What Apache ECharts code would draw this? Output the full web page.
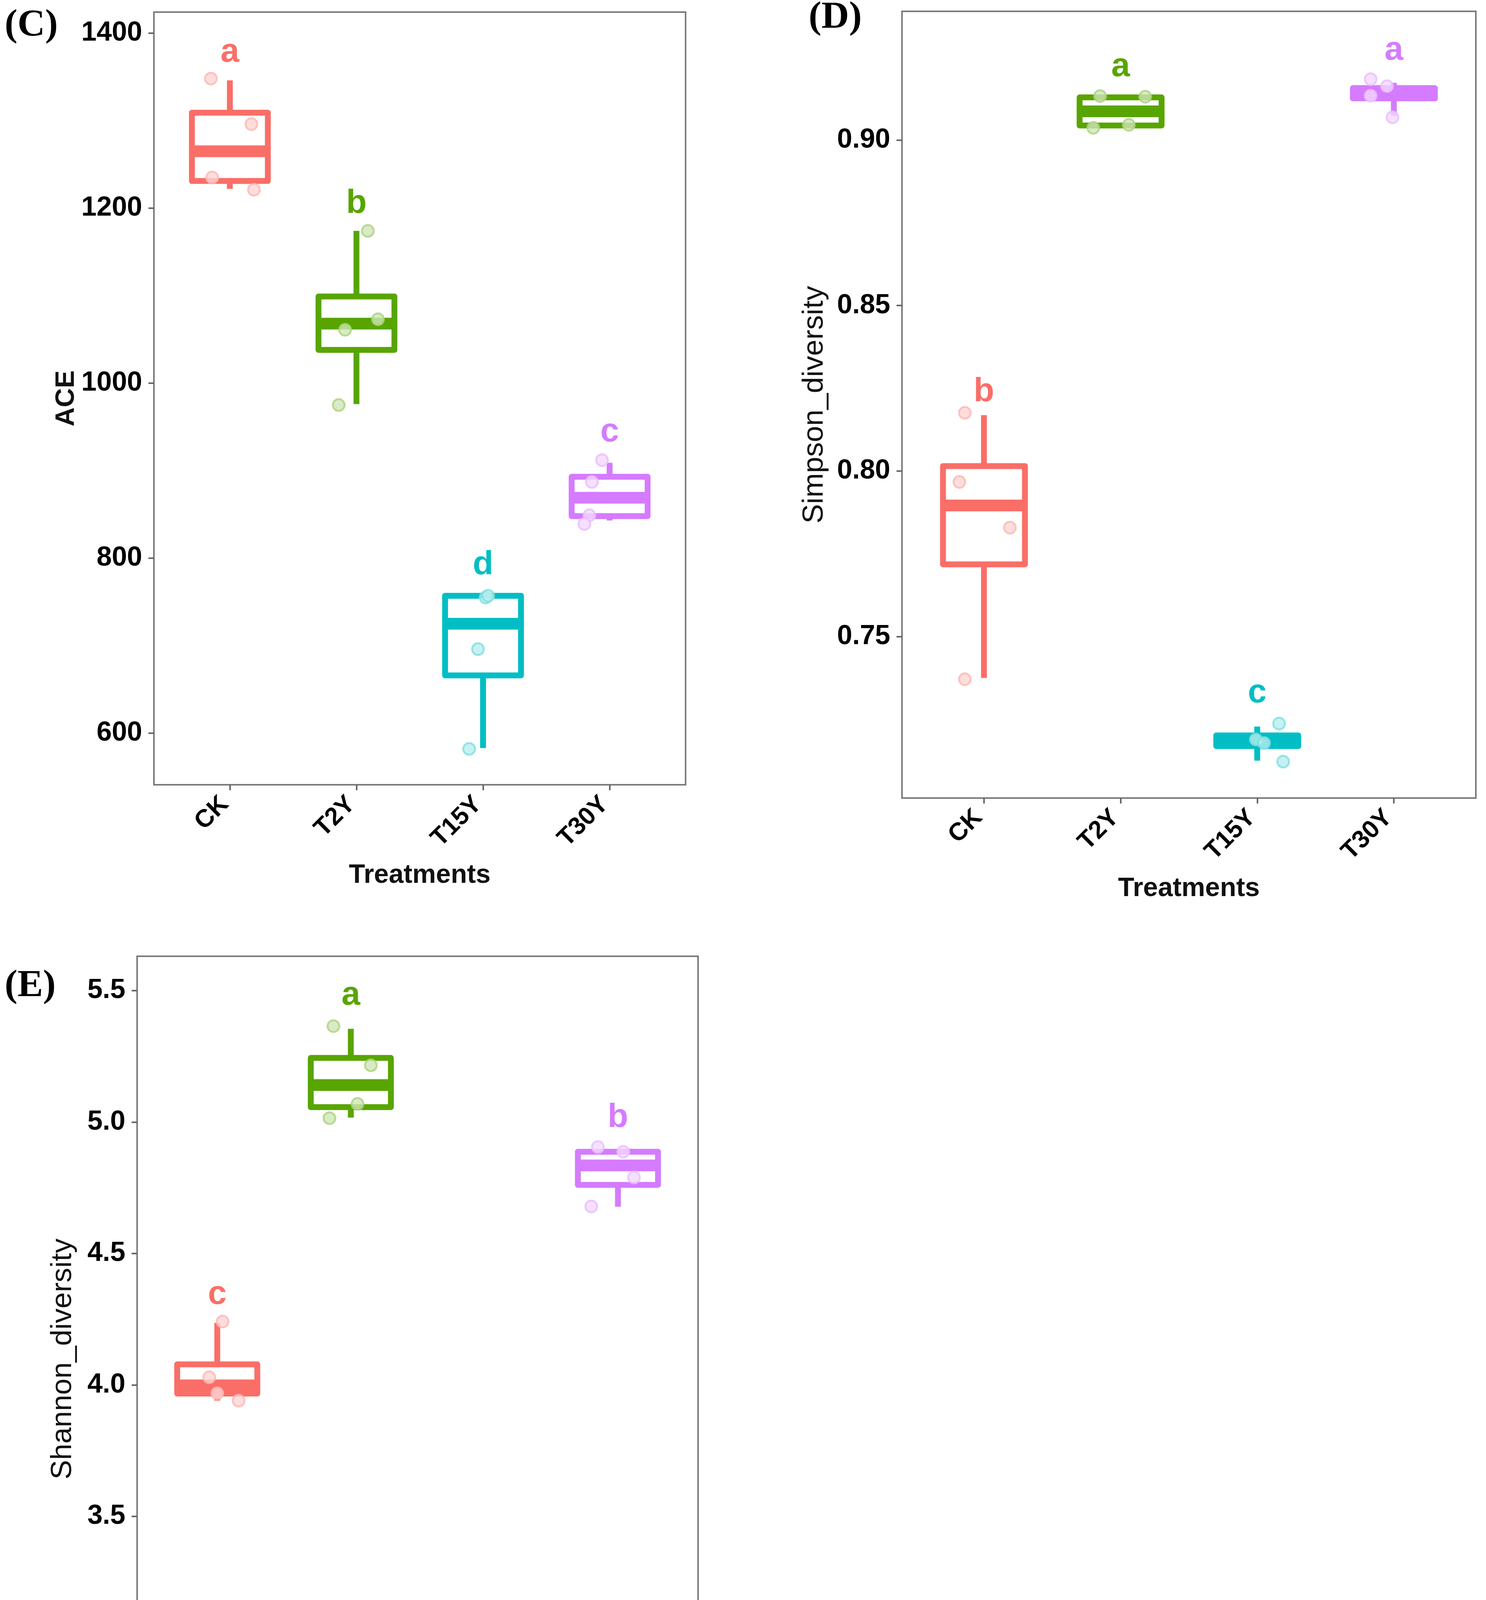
<!DOCTYPE html>
<html>
<head>
<meta charset="utf-8">
<script src="https://cdn.jsdelivr.net/npm/echarts@6/dist/echarts.min.js"></script>
<style>
  html, body { margin: 0; padding: 0; background: #fff; }
  #chart { width: 3804px; height: 4809px; }
</style>
</head>
<body>
<div id="chart"></div>
<script>
const treatments = ['CK', 'T2Y', 'T15Y', 'T30Y'];
const groupColors = ['#FA6E68', '#58A500', '#00BEC4', '#D57BFF'];

// box stats per treatment: [min, q1, median, q3, max]
const aceBoxes = [
  [1222, 1231, 1265, 1309, 1346],
  [976, 1038, 1068, 1099, 1174],
  [583, 666, 725, 757, 757],
  [843, 848, 869, 893, 909]
];
// jittered points: [x position, value]
const acePoints = [
  [[0.85, 1348], [1.17, 1296], [0.86, 1235], [1.19, 1221]],
  [[2.09, 1174], [2.17, 1073], [1.91, 1061], [1.86, 975]],
  [[3.02, 755], [3.04, 757], [2.96, 696], [2.89, 582]],
  [[3.94, 912], [3.86, 887], [3.84, 849], [3.80, 839]]
];
const aceLetters = ['a', 'b', 'd', 'c'];
const aceLetterY = [1378, 1205, 792, 944];
const aceTicks = [600, 800, 1000, 1200, 1400];
const aceRange = [541, 1424];

const simpsonBoxes = [
  [0.7375, 0.7718, 0.7896, 0.8015, 0.8169],
  [0.9037, 0.9044, 0.9087, 0.9129, 0.9133],
  [0.7125, 0.7169, 0.7185, 0.7201, 0.7228],
  [0.9073, 0.9126, 0.9142, 0.9157, 0.9173]
];
const simpsonPoints = [
  [[0.86, 0.8176], [0.82, 0.7967], [1.19, 0.7829], [0.86, 0.7371]],
  [[1.85, 0.9133], [2.18, 0.9131], [2.06, 0.9046], [1.80, 0.9037]],
  [[3.16, 0.7237], [2.99, 0.7189], [3.05, 0.7178], [3.19, 0.7122]],
  [[3.83, 0.9184], [3.95, 0.9163], [3.83, 0.9134], [3.99, 0.9069]]
];
const simpsonLetters = ['b', 'a', 'c', 'a'];
const simpsonLetterY = [0.8239, 0.9221, 0.7329, 0.9271];
const simpsonTicks = [0.75, 0.80, 0.85, 0.90];
const simpsonRange = [0.7012, 0.9389];

const shannonBoxes = [
  [3.940, 3.967, 3.998, 4.078, 4.236],
  [5.017, 5.057, 5.141, 5.244, 5.355],
  [2.716, 2.740, 2.756, 2.772, 2.786],
  [4.678, 4.761, 4.835, 4.887, 4.898]
];
const shannonPoints = [
  [[1.04, 4.241], [0.94, 4.029], [1.00, 3.968], [1.16, 3.940]],
  [[1.87, 5.365], [2.15, 5.216], [2.05, 5.069], [1.84, 5.015]],
  [[2.86, 2.776], [2.99, 2.786], [3.08, 2.744], [3.19, 2.716]],
  [[3.85, 4.905], [4.04, 4.887], [4.12, 4.789], [3.80, 4.679]]
];
const shannonLetters = ['c', 'a', 'd', 'b'];
const shannonLetterY = [4.3435, 5.4816, 2.9138, 5.0167];
const shannonTicks = [3.0, 3.5, 4.0, 4.5, 5.0, 5.5];
const shannonRange = [2.566, 5.631];

const SANS = '"Liberation Sans", Arial, sans-serif';
const SERIF = '"Liberation Serif", "Times New Roman", serif';

// mix a hex colour with white
function tint(hex, amount) {
  const n = parseInt(hex.slice(1), 16);
  const ch = [(n >> 16) & 255, (n >> 8) & 255, n & 255]
    .map(c => Math.round(c + (255 - c) * amount));
  return 'rgb(' + ch.join(',') + ')';
}

function renderBox(params, api) {
  const x = api.value(0);
  const lo = api.coord([x, api.value(1)]);
  const q1 = api.coord([x, api.value(2)]);
  const med = api.coord([x, api.value(3)]);
  const q3 = api.coord([x, api.value(4)]);
  const hi = api.coord([x, api.value(5)]);
  const half = api.size([0.3, 0])[0];
  const color = groupColors[params.dataIndex];
  const stroke = { stroke: color, lineWidth: 15, fill: null, lineJoin: 'round' };
  return {
    type: 'group',
    children: [
      { type: 'line', shape: { x1: hi[0], y1: hi[1], x2: q3[0], y2: q3[1] }, style: stroke },
      { type: 'line', shape: { x1: q1[0], y1: q1[1], x2: lo[0], y2: lo[1] }, style: stroke },
      { type: 'rect', shape: { x: q3[0] - half, y: q3[1], width: 2 * half, height: q1[1] - q3[1] }, style: stroke },
      { type: 'line', shape: { x1: med[0] - half, y1: med[1], x2: med[0] + half, y2: med[1] },
        style: { stroke: color, lineWidth: 30 } }
    ]
  };
}

function renderLetter(params, api) {
  const p = api.coord([api.value(0), api.value(1)]);
  return {
    type: 'text',
    x: p[0], y: p[1],
    style: {
      text: api.value(2),
      fill: groupColors[params.dataIndex],
      font: 'bold 86px ' + SANS,
      align: 'center',
      verticalAlign: 'middle'
    }
  };
}

const panels = [
  { grid: { left: 394, top: 31, width: 1361, height: 1978 },
    boxes: aceBoxes, points: acePoints, letters: aceLetters, letterY: aceLetterY,
    ticks: aceTicks, range: aceRange, name: 'ACE', nameBold: true, nameGap: 188, digits: 0 },
  { grid: { left: 2309, top: 29, width: 1469, height: 2014 },
    boxes: simpsonBoxes, points: simpsonPoints, letters: simpsonLetters, letterY: simpsonLetterY,
    ticks: simpsonTicks, range: simpsonRange, name: 'Simpson_diversity', nameBold: false, nameGap: 186, digits: 2 },
  { grid: { left: 351, top: 2448, width: 1436, height: 2062 },
    boxes: shannonBoxes, points: shannonPoints, letters: shannonLetters, letterY: shannonLetterY,
    ticks: shannonTicks, range: shannonRange, name: 'Shannon_diversity', nameBold: false, nameGap: 152, digits: 1 }
];

// rotated category labels sit a little left of their tick, as in ggplot (hjust = 1)
const labelSpots = [0.96, 1.96, 2.96, 3.96];

const grid = [], xAxis = [], yAxis = [], series = [];

panels.forEach((pn, i) => {
  grid.push(Object.assign({ show: true, borderColor: '#7a7a7a', borderWidth: 4, backgroundColor: '#fff' }, pn.grid));

  xAxis.push({
    gridIndex: i, type: 'value', min: 0.4, max: 4.6,
    name: 'Treatments', nameLocation: 'middle', nameGap: 198,
    nameTextStyle: { fontFamily: SANS, fontSize: 68, fontWeight: 'bold', color: '#111' },
    axisLine: { show: false },
    splitLine: { show: false },
    axisTick: { show: true, customValues: [1, 2, 3, 4], length: 14, lineStyle: { color: '#666', width: 4 } },
    axisLabel: {
      customValues: labelSpots, rotate: 45, margin: 40,
      formatter: v => treatments[Math.round(v) - 1],
      fontFamily: SANS, fontSize: 64, fontWeight: 'bold', color: '#000'
    }
  });

  yAxis.push({
    gridIndex: i, type: 'value', min: pn.range[0], max: pn.range[1],
    name: pn.name, nameLocation: 'middle', nameGap: pn.nameGap,
    nameTextStyle: { fontFamily: SANS, fontSize: pn.nameBold ? 68 : 75,
      fontWeight: pn.nameBold ? 'bold' : 'normal', color: '#111' },
    axisLine: { show: false },
    splitLine: { show: false },
    axisTick: { show: true, customValues: pn.ticks, length: 14, lineStyle: { color: '#666', width: 4 } },
    axisLabel: {
      customValues: pn.ticks, margin: 30,
      formatter: v => Number(v).toFixed(pn.digits),
      fontFamily: SANS, fontSize: 70, fontWeight: 'bold', color: '#000'
    }
  });

  series.push({
    type: 'custom', xAxisIndex: i, yAxisIndex: i, clip: false, z: 2,
    renderItem: renderBox,
    data: pn.boxes.map((b, k) => [k + 1].concat(b))
  });

  const pts = [];
  pn.points.forEach((grp, k) => grp.forEach(p => pts.push({
    value: p,
    itemStyle: { color: tint(groupColors[k], 0.72), borderColor: tint(groupColors[k], 0.5), borderWidth: 5 }
  })));
  series.push({
    type: 'scatter', xAxisIndex: i, yAxisIndex: i, z: 3,
    symbol: 'circle', symbolSize: 30, silent: true,
    data: pts
  });

  series.push({
    type: 'custom', xAxisIndex: i, yAxisIndex: i, clip: false, z: 4,
    renderItem: renderLetter,
    data: pn.letters.map((l, k) => [k + 1, pn.letterY[k], l])
  });
});

const chart = echarts.init(document.getElementById('chart'), null, { renderer: 'canvas' });
chart.setOption({
  animation: false,
  backgroundColor: '#fff',
  grid, xAxis, yAxis, series,
  graphic: [
    { type: 'text', x: 12, y: 66, style: { text: '(C)', font: 'bold 98px ' + SERIF, fill: '#000', verticalAlign: 'middle' } },
    { type: 'text', x: 2070, y: 46, style: { text: '(D)', font: 'bold 98px ' + SERIF, fill: '#000', verticalAlign: 'middle' } },
    { type: 'text', x: 12, y: 2525, style: { text: '(E)', font: 'bold 98px ' + SERIF, fill: '#000', verticalAlign: 'middle' } }
  ]
});
</script>
</body>
</html>
